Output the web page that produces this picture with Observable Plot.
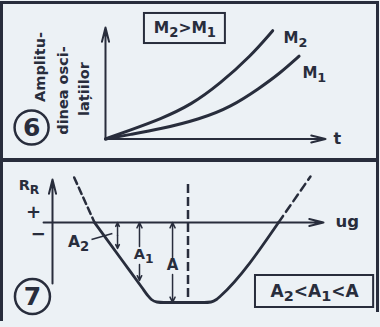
<!DOCTYPE html>
<html>
<head>
<meta charset="utf-8">
<script src="https://cdn.jsdelivr.net/npm/d3@7"></script>
<script src="https://cdn.jsdelivr.net/npm/@observablehq/plot@0.6"></script>
<style>
  html, body { margin: 0; padding: 0; background: #ecf1f5; }
  #sheet { position: relative; width: 380px; height: 327px; overflow: hidden; background: #ecf1f5; }
  .panel { position: absolute; left: 0; width: 380px; }
  .panel svg { display: block; max-width: none; }
  .rule { position: absolute; background: #282d3c; }
</style>
</head>
<body>
<div id="sheet">
  <div id="fig6" class="panel" style="top:0;height:160px"></div>
  <div id="fig7" class="panel" style="top:160px;height:167px"></div>
  <div class="rule" style="left:0;top:1px;width:379px;height:3px"></div>
  <div class="rule" style="left:0;top:1px;width:2.5px;height:320px"></div>
  <div class="rule" style="left:376px;top:1px;width:3px;height:311px"></div>
  <div class="rule" style="left:0;top:158px;width:379px;height:3.5px"></div>
</div>
<script>
const ink = "#282d3c";
const font = "DejaVu Sans, sans-serif";

// Figure 6: amplitude of the oscillations growing with time, for M2 > M1
const timeM2 = [0, 1.1, 2.5, 3.9, 5.2, 6.6, 7.6];
const ampM2  = [0, 0.8, 1.8, 3.1, 5.0, 7.5, 9.8];
const timeM1 = [0, 1.1, 2.5, 4.3, 5.7, 7.0, 7.9, 8.8];
const ampM1  = [0, 0.4, 0.9, 1.8, 2.9, 4.6, 5.9, 7.5];
const yTitleLines = ["Amplitu-", "dinea osci-", "lațiilor"];

// Figure 7: grid-current characteristic R_R(ug) with the gaps A2 < A1 < A
const ugSolid = [1.55, 2.58, 3.3, 3.5, 3.65, 3.85, 4.1, 5.6, 5.85, 6.05, 6.2, 8.34];
const rrSolid = [0, -3.83, -6.5, -7.25, -7.7, -7.95, -8, -8, -7.95, -7.7, -7.35, 0];
const ugDashLeft = [0.8, 1.55];
const rrDashLeft = [4.5, 0];
const ugDashRight = [8.34, 9.52];
const rrDashRight = [0, 4.6];
const ugCentre = 5.0;
const gapNames = ["A_2", "A_1", "A"];
const gapUg = [2.4, 3.21, 4.43];
const gapUpper = [-1.3, -2.4, -3.6];   // upper arrow starts here (label gap)
const gapLower = [-1.3, -4.2, -5.2];   // lower arrow starts here
const gapDepth = [-2.6, -5.8, -8];     // where each gap meets the characteristic

const m2 = timeM2.map((t, i) => ({t, a: ampM2[i]}));
const m1 = timeM1.map((t, i) => ({t, a: ampM1[i]}));
const characteristic = ugSolid.map((u, i) => ({u, r: rrSolid[i]}));
const dashLeft = ugDashLeft.map((u, i) => ({u, r: rrDashLeft[i]}));
const dashRight = ugDashRight.map((u, i) => ({u, r: rrDashRight[i]}));
const gapsUp = gapUg.map((u, i) => ({u, from: gapUpper[i], to: 0}));
const gapsDown = gapUg.map((u, i) => ({u, from: gapLower[i], to: gapDepth[i]}));

// turn "X_n" into X with a lowered, smaller n
function applySubscripts(svg) {
  svg.querySelectorAll("text").forEach(el => {
    const s = el.textContent;
    if (!s.includes("_")) return;
    el.textContent = "";
    let lowered = false;
    for (const p of s.split(/(_.)/).filter(d => d)) {
      const ts = document.createElementNS("http://www.w3.org/2000/svg", "tspan");
      if (p[0] === "_") {
        ts.textContent = p.slice(1);
        ts.setAttribute("font-size", "0.85em");
        if (!lowered) ts.setAttribute("dy", "0.3em");
        lowered = true;
      } else {
        ts.textContent = p;
        if (lowered) ts.setAttribute("dy", "-0.255em");
        lowered = false;
      }
      el.appendChild(ts);
    }
  });
}

const common = {
  width: 380,
  style: {background: "transparent", fontFamily: font, overflow: "visible", color: ink, maxWidth: "none"}
};
const label = {fill: ink, fontWeight: "bold"};

const fig6 = Plot.plot({
  ...common,
  height: 160,
  marginLeft: 105, marginRight: 55, marginTop: 28, marginBottom: 21.5,
  x: {domain: [0, 10], axis: null},
  y: {domain: [0, 10], axis: null},
  marks: [
    Plot.arrow([0], {x1: 0, y1: 0, x2: 10, y2: 0, stroke: ink, strokeWidth: 2, headLength: 11, headAngle: 28}),
    Plot.arrow([0], {x1: 0, y1: 0, x2: 0, y2: 10.09, stroke: ink, strokeWidth: 2, headLength: 11, headAngle: 28}),
    Plot.line(m2, {x: "t", y: "a", curve: "basis", stroke: ink, strokeWidth: 3}),
    Plot.line(m1, {x: "t", y: "a", curve: "basis", stroke: ink, strokeWidth: 3}),
    Plot.rect([0], {x1: 1.77, x2: 5.45, y1: 8.64, y2: 11.36, fill: "none", stroke: ink, strokeWidth: 2}),
    Plot.text(["M_2>M_1"], {x: 3.61, y: 10.0, fontSize: 15.5, ...label}),
    Plot.text(["M_2"], {x: 8.09, y: 9.09, textAnchor: "start", fontSize: 15, ...label}),
    Plot.text(["M_1"], {x: 8.95, y: 5.93, textAnchor: "start", fontSize: 15, ...label}),
    Plot.text(["t"], {x: 10.36, y: 0.05, textAnchor: "start", fontSize: 16, ...label}),
    Plot.text([yTitleLines[0]], {x: -2.95, y: 6.52, rotate: -90, fontSize: 14.5, ...label}),
    Plot.text([yTitleLines[1]], {x: -1.91, y: 4.39, rotate: -90, fontSize: 14.5, ...label}),
    Plot.text([yTitleLines[2]], {x: -0.95, y: 4.52, rotate: -90, fontSize: 14.5, ...label}),
    Plot.dot([0], {x: -3.36, y: 1.04, r: 17, fill: "none", stroke: ink, strokeWidth: 2.5}),
    Plot.text(["6"], {x: -3.36, y: 1.04, fontSize: 25, ...label})
  ]
});
applySubscripts(fig6);
document.getElementById("fig6").append(fig6);

const fig7 = Plot.plot({
  ...common,
  height: 167,
  marginLeft: 52, marginRight: 57, marginTop: 22, marginBottom: 25,
  x: {domain: [0, 10], axis: null},
  y: {domain: [-8, 4], axis: null},
  marks: [
    Plot.arrow([0], {x1: -0.33, y1: 0, x2: 10, y2: 0, stroke: ink, strokeWidth: 2, headLength: 11, headAngle: 28}),
    Plot.arrow([0], {x1: 0, y1: -6.1, x2: 0, y2: 4.3, stroke: ink, strokeWidth: 2, headLength: 11, headAngle: 28}),
    Plot.line(dashLeft, {x: "u", y: "r", stroke: ink, strokeWidth: 2.5, strokeDasharray: "7,4"}),
    Plot.line(dashRight, {x: "u", y: "r", stroke: ink, strokeWidth: 2.5, strokeDasharray: "8,5"}),
    Plot.line(characteristic, {x: "u", y: "r", curve: "monotone-x", stroke: ink, strokeWidth: 2.8}),
    Plot.ruleX([ugCentre], {y1: 3.8, y2: -8, stroke: ink, strokeWidth: 2.5, strokeDasharray: "9,4"}),
    Plot.arrow(gapsUp, {x1: "u", x2: "u", y1: "from", y2: "to", stroke: ink, strokeWidth: 1.5, headLength: 6, headAngle: 50}),
    Plot.arrow(gapsDown, {x1: "u", x2: "u", y1: "from", y2: "to", stroke: ink, strokeWidth: 1.5, headLength: 6, headAngle: 50}),
    Plot.link([0], {x1: 1.44, y1: -1.7, x2: 2.21, y2: -1.1, stroke: ink, strokeWidth: 1.5}),
    Plot.text([gapNames[0]], {x: 0.96, y: -2.0, fontSize: 15.5, ...label}),
    Plot.text([gapNames[1]], {x: 3.36, y: -3.2, fontSize: 14.5, ...label}),
    Plot.text([gapNames[2]], {x: 4.43, y: -4.3, fontSize: 15, ...label}),
    Plot.text(["R_R"], {x: -1.25, y: 3.7, textAnchor: "start", fontSize: 14.5, ...label}),
    Plot.text(["+"], {x: -0.7, y: 1.0, fontSize: 18, ...label}),
    Plot.text(["−"], {x: -0.52, y: -1.2, fontSize: 18, ...label}),
    Plot.text(["ug"], {x: 10.44, y: 0.1, textAnchor: "start", fontSize: 16.5, ...label}),
    Plot.rect([0], {x1: 7.49, x2: 11.85, y1: -8.5, y2: -5.3, fill: "none", stroke: ink, strokeWidth: 2}),
    Plot.text(["A_2<A_1<A"], {x: 9.67, y: -6.9, fontSize: 17, ...label}),
    Plot.dot([0], {x: -0.74, y: -7.4, r: 17.5, fill: "none", stroke: ink, strokeWidth: 2.5}),
    Plot.text(["7"], {x: -0.74, y: -7.4, fontSize: 25, ...label})
  ]
});
applySubscripts(fig7);
document.getElementById("fig7").append(fig7);
</script>
</body>
</html>
